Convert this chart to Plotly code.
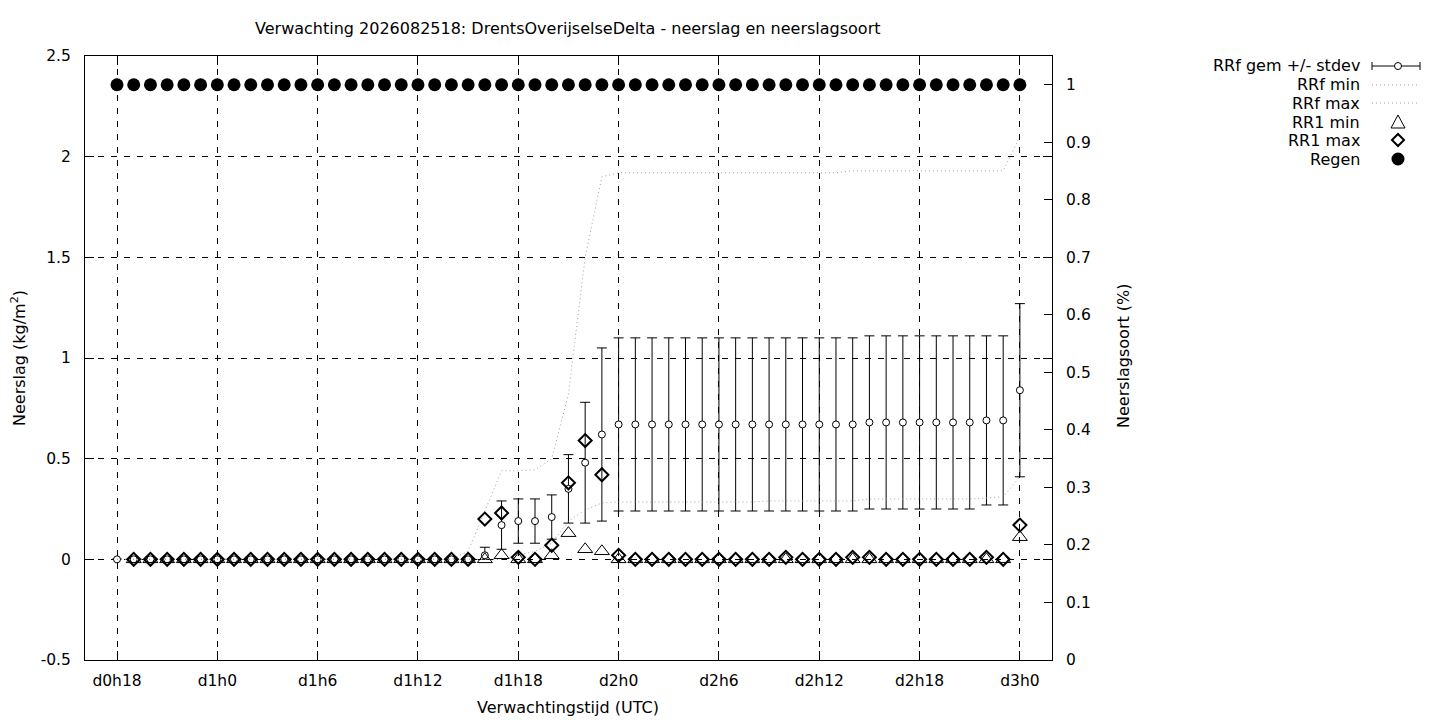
import plotly.graph_objects as go

# ---------------- data ----------------
hours = [0, 1, 2, 3, 4, 5, 6, 7, 8, 9, 10, 11, 12, 13, 14, 15, 16, 17, 18, 19,
         20, 21, 22, 23, 24, 25, 26, 27, 28, 29, 30, 31, 32, 33, 34, 35, 36, 37,
         38, 39, 40, 41, 42, 43, 44, 45, 46, 47, 48, 49, 50, 51, 52, 53, 54]

tick_hours = [0, 6, 12, 18, 24, 30, 36, 42, 48, 54]
tick_labels = ["d0h18", "d1h0", "d1h6", "d1h12", "d1h18",
               "d2h0", "d2h6", "d2h12", "d2h18", "d3h0"]

y_tickvals = [-0.5, 0, 0.5, 1, 1.5, 2, 2.5]
y_ticktext = ["-0.5", "0", "0.5", "1", "1.5", "2", "2.5"]
y2_tickvals = [0, 0.1, 0.2, 0.3, 0.4, 0.5, 0.6, 0.7, 0.8, 0.9, 1]
y2_ticktext = ["0", "0.1", "0.2", "0.3", "0.4", "0.5", "0.6", "0.7", "0.8", "0.9", "1"]

# RRf ensemble mean, mean+stdev, mean-stdev (hours 0..54)
rrf_mean = [0, 0, 0, 0, 0, 0, 0, 0, 0, 0, 0, 0, 0, 0, 0, 0, 0, 0, 0, 0, 0, 0,
            0.02, 0.17, 0.19, 0.19, 0.21, 0.35, 0.48, 0.62,
            0.67, 0.67, 0.67, 0.67, 0.67, 0.67, 0.67, 0.67, 0.67, 0.67, 0.67,
            0.67, 0.67, 0.67, 0.67,
            0.68, 0.68, 0.68, 0.68, 0.68, 0.68, 0.68,
            0.69, 0.69, 0.84]
rrf_upper = [0, 0, 0, 0, 0, 0, 0, 0, 0, 0, 0, 0, 0, 0, 0, 0, 0, 0, 0, 0, 0, 0,
             0.06, 0.29, 0.30, 0.30, 0.32, 0.52, 0.78, 1.05,
             1.10, 1.10, 1.10, 1.10, 1.10, 1.10, 1.10, 1.10, 1.10, 1.10, 1.10,
             1.10, 1.10, 1.10, 1.10,
             1.11, 1.11, 1.11, 1.11, 1.11, 1.11, 1.11,
             1.11, 1.11, 1.27]
rrf_lower = [0, 0, 0, 0, 0, 0, 0, 0, 0, 0, 0, 0, 0, 0, 0, 0, 0, 0, 0, 0, 0, 0,
             0.0, 0.05, 0.08, 0.08, 0.10, 0.18, 0.18, 0.19,
             0.24, 0.24, 0.24, 0.24, 0.24, 0.24, 0.24, 0.24, 0.24, 0.24, 0.24,
             0.24, 0.24, 0.24, 0.24,
             0.25, 0.25, 0.25, 0.25, 0.25, 0.25, 0.25,
             0.27, 0.27, 0.41]

# RRf min / max (hours 0..54)
rrf_min = [0, 0, 0, 0, 0, 0, 0, 0, 0, 0, 0, 0, 0, 0, 0, 0, 0, 0, 0, 0, 0, 0, 0, 0,
           0.02, 0.04, 0.08, 0.19, 0.245, 0.28,
           0.285, 0.285, 0.285, 0.285, 0.285, 0.285, 0.285, 0.285, 0.285,
           0.29, 0.29, 0.29, 0.29, 0.29, 0.29,
           0.30, 0.30, 0.30, 0.30, 0.30, 0.30, 0.30,
           0.305, 0.31, 0.41]
rrf_max = [0, 0, 0, 0, 0, 0, 0, 0, 0, 0, 0, 0, 0, 0, 0, 0, 0, 0, 0, 0, 0,
           0.04, 0.24, 0.44, 0.44, 0.445, 0.50, 0.82, 1.50, 1.90,
           1.92, 1.92, 1.92, 1.92, 1.92, 1.92, 1.92, 1.92, 1.92, 1.92, 1.92,
           1.92, 1.92, 1.92,
           1.93, 1.93, 1.93, 1.93, 1.93, 1.93, 1.93, 1.93, 1.93, 1.93,
           2.10]

# RR1 min / max (hours 1..54)
rr1_hours = [1, 2, 3, 4, 5, 6, 7, 8, 9, 10, 11, 12, 13, 14, 15, 16, 17, 18, 19,
             20, 21, 22, 23, 24, 25, 26, 27, 28, 29, 30, 31, 32, 33, 34, 35, 36,
             37, 38, 39, 40, 41, 42, 43, 44, 45, 46, 47, 48, 49, 50, 51, 52, 53, 54]
rr1_min = [0, 0, 0, 0, 0, 0, 0, 0, 0, 0, 0, 0, 0, 0, 0, 0, 0, 0, 0, 0, 0,
           0.0, 0.02, 0.0, 0.0, 0.02, 0.13, 0.05, 0.04,
           0, 0, 0, 0, 0, 0, 0, 0, 0, 0, 0, 0, 0, 0, 0, 0, 0, 0, 0, 0, 0, 0, 0, 0,
           0.11]
rr1_max = [0, 0, 0, 0, 0, 0, 0, 0, 0, 0, 0, 0, 0, 0, 0, 0, 0, 0, 0, 0, 0,
           0.20, 0.23, 0.01, 0.0, 0.07, 0.38, 0.59, 0.42,
           0.02, 0, 0, 0, 0, 0, 0, 0, 0, 0,
           0.01, 0, 0, 0, 0.01, 0.01, 0, 0, 0, 0, 0, 0, 0.01, 0,
           0.17]

# Regen (precipitation type fraction, right axis) hours 0..54
regen = [1, 1, 1, 1, 1, 1, 1, 1, 1, 1, 1, 1, 1, 1, 1, 1, 1, 1, 1, 1, 1, 1, 1, 1,
         1, 1, 1, 1, 1, 1, 1, 1, 1, 1, 1, 1, 1, 1, 1, 1, 1, 1, 1, 1, 1, 1, 1, 1,
         1, 1, 1, 1, 1, 1, 1]

legend_labels = ["RRf gem +/- stdev", "RRf min", "RRf max", "RR1 min", "RR1 max", "Regen"]

# ---------------- layout geometry ----------------
W, H = 1440, 720
L, R, T, B = 85, 1052, 56, 660
FONT = "DejaVu Sans"
FS = 16
TFS = 15.5
GRAY = "#a0a0a0"


def px(x):
    return (x - L) / (R - L)


def py(y):
    return (B - y) / (B - T)


err_plus = [u - m for u, m in zip(rrf_upper, rrf_mean)]
err_minus = [m - lo for m, lo in zip(rrf_mean, rrf_lower)]

fig = go.Figure()

fig.add_trace(go.Scatter(
    x=hours, y=rrf_mean, mode="markers", name=legend_labels[0],
    marker=dict(symbol="circle", size=7, color="white",
                line=dict(color="black", width=1)),
    error_y=dict(type="data", symmetric=False, array=err_plus,
                 arrayminus=err_minus, color="black", thickness=1, width=5),
    showlegend=False))

fig.add_trace(go.Scatter(
    x=hours, y=rrf_min, mode="lines", name=legend_labels[1],
    line=dict(color=GRAY, width=1, dash="1px,3px"), showlegend=False))

fig.add_trace(go.Scatter(
    x=hours, y=rrf_max, mode="lines", name=legend_labels[2],
    line=dict(color=GRAY, width=1, dash="1px,3px"), showlegend=False))

fig.add_trace(go.Scatter(
    x=rr1_hours, y=rr1_min, mode="markers", name=legend_labels[3],
    marker=dict(symbol="triangle-up-open", size=13, color="black",
                line=dict(color="black", width=1)),
    showlegend=False))

fig.add_trace(go.Scatter(
    x=rr1_hours, y=rr1_max, mode="markers", name=legend_labels[4],
    marker=dict(symbol="diamond-open", size=10, color="black",
                line=dict(color="black", width=2)),
    showlegend=False))

fig.add_trace(go.Scatter(
    x=hours, y=regen, mode="markers", name=legend_labels[5], yaxis="y2",
    marker=dict(symbol="circle", size=13, color="black",
                line=dict(width=0)),
    showlegend=False))

grid = dict(showgrid=True, gridcolor="black", gridwidth=1, griddash="6px,7px")
tfont = dict(family=FONT, size=TFS, color="black")

fig.update_layout(
    width=W, height=H,
    margin=dict(l=L, r=W - R, t=T, b=H - B, pad=0),
    paper_bgcolor="white", plot_bgcolor="white",
    font=dict(family=FONT, size=FS, color="black"),
    showlegend=False,
    xaxis=dict(range=[-1.914, 55.92], tickvals=tick_hours, ticktext=tick_labels,
               ticks="inside", ticklen=9, tickcolor="black", tickfont=tfont,
               showline=True, linecolor="black", linewidth=1, mirror="ticks",
               zeroline=False, ticklabelstandoff=6, **grid),
    yaxis=dict(range=[-0.5, 2.5], tickvals=y_tickvals, ticktext=y_ticktext,
               ticks="inside", ticklen=9, tickcolor="black", tickfont=tfont,
               showline=True, linecolor="black", linewidth=1, mirror="ticks",
               zeroline=False, ticklabelstandoff=10, **grid),
    yaxis2=dict(range=[0, 1.05], tickvals=y2_tickvals, ticktext=y2_ticktext,
                overlaying="y", side="right", ticks="inside", ticklen=8,
                tickcolor="black", tickfont=tfont, showline=True,
                linecolor="black", linewidth=1, showgrid=False,
                zeroline=False, ticklabelstandoff=10),
)

annotations = [
    dict(text="Verwachting 2026082518: DrentsOverijselseDelta - neerslag en neerslagsoort",
         x=px(568), y=py(29), xanchor="center", yanchor="middle"),
    dict(text="Verwachtingstijd (UTC)", x=px(568), y=py(707),
         xanchor="center", yanchor="middle"),
    dict(text="Neerslag (kg/m<sup>2</sup>)", x=px(18), y=py(358),
         xanchor="center", yanchor="middle", textangle=-90),
    dict(text="Neerslagsoort (%)", x=px(1123), y=py(356),
         xanchor="center", yanchor="middle", textangle=-90),
]

# custom gnuplot-style key: right aligned text, sample on the right
key_y = [66, 85, 103, 122, 140, 159]
for lab, ky in zip(legend_labels, key_y):
    annotations.append(dict(text=lab, x=px(1362), y=py(ky), xanchor="right",
                            yanchor="middle"))

for a in annotations:
    a.update(xref="paper", yref="paper", showarrow=False,
             font=dict(family=FONT, size=FS, color="black"))

shapes = []
blk = dict(color="black", width=1)
# errorbar sample
shapes.append(dict(type="line", x0=px(1372), x1=px(1420), y0=py(66), y1=py(66), line=blk))
shapes.append(dict(type="line", x0=px(1372), x1=px(1372), y0=py(62), y1=py(70), line=blk))
shapes.append(dict(type="line", x0=px(1420), x1=px(1420), y0=py(62), y1=py(70), line=blk))
shapes.append(dict(type="circle", x0=px(1394.5), x1=px(1401.5), y0=py(62.5), y1=py(69.5),
                   line=blk, fillcolor="white"))
# dotted samples
for ky in (85, 103):
    shapes.append(dict(type="line", x0=px(1372), x1=px(1420), y0=py(ky), y1=py(ky),
                       line=dict(color=GRAY, width=1, dash="1px,3px")))
# triangle
tx, ty = 1398, 122
shapes.append(dict(type="path",
                   path=f"M {px(tx-7)},{py(ty+6)} L {px(tx+7)},{py(ty+6)} L {px(tx)},{py(ty-7)} Z",
                   line=blk))
# diamond
dx, dy = 1398, 140
shapes.append(dict(type="path",
                   path=f"M {px(dx-6)},{py(dy)} L {px(dx)},{py(dy-6)} L {px(dx+6)},{py(dy)} L {px(dx)},{py(dy+6)} Z",
                   line=dict(color="black", width=2)))
# filled circle
shapes.append(dict(type="circle", x0=px(1391.5), x1=px(1404.5), y0=py(152.5), y1=py(165.5),
                   line=dict(color="black", width=0), fillcolor="black"))

for s in shapes:
    s.update(xref="paper", yref="paper")

fig.update_layout(annotations=annotations, shapes=shapes)

fig.write_html("out.html",
               config={"displayModeBar": False},
               post_script="document.body.style.margin='0';document.body.style.overflow='hidden';")
